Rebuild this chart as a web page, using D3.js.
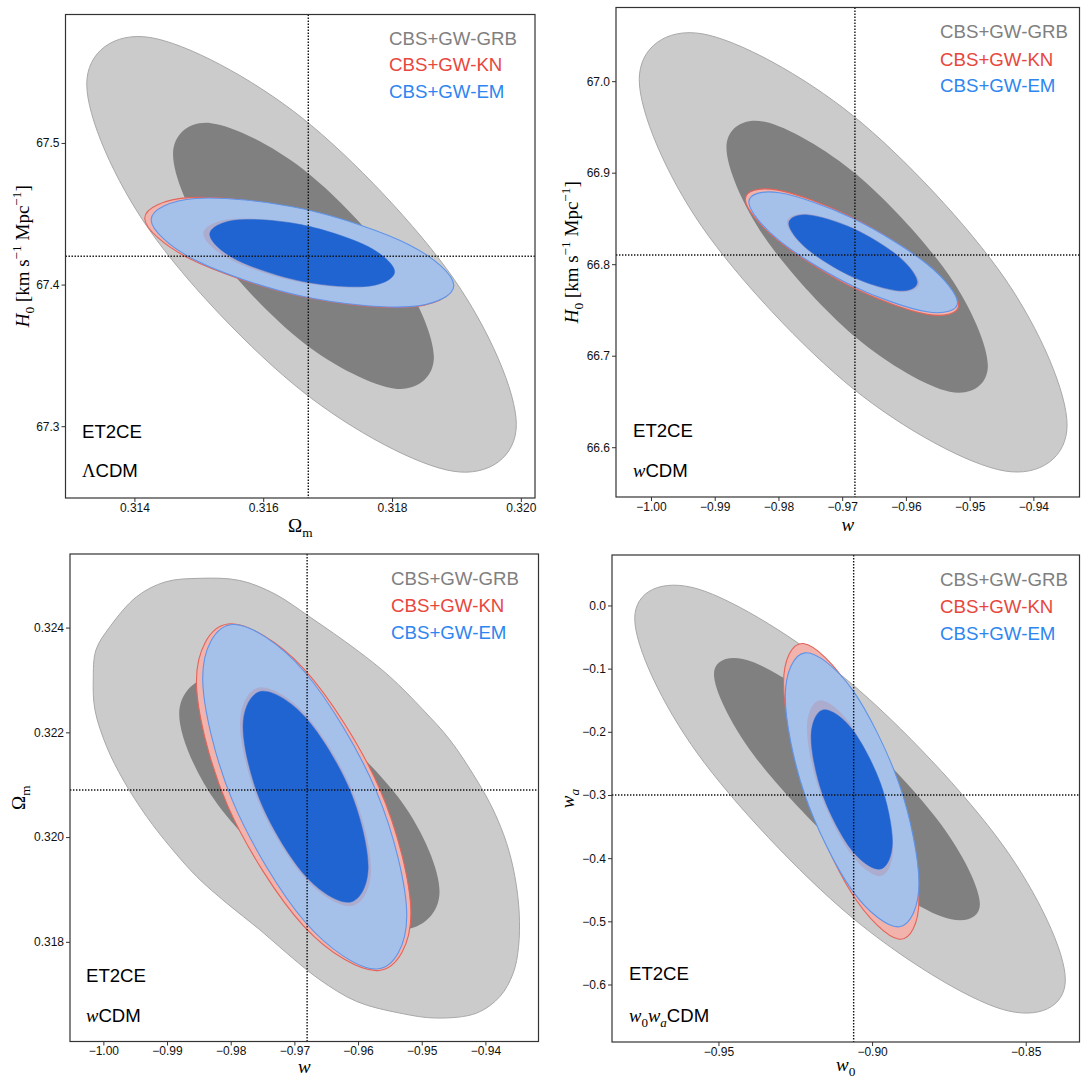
<!DOCTYPE html>
<html><head><meta charset="utf-8">
<script src="https://cdn.jsdelivr.net/npm/d3@7/dist/d3.min.js"></script>
<style>
html,body{margin:0;padding:0;background:#fff;}
svg{display:block;}
</style></head><body>
<svg id="chart" width="1081" height="1080"></svg>
<script>
// ================= DATA =================
const seriesNames = ["CBS+GW-GRB", "CBS+GW-KN", "CBS+GW-EM"];
const experiment = "ET2CE";

// ---- Panel 1: LambdaCDM, Omega_m vs H0 ----
const p1_xTicks = [0.314, 0.316, 0.318, 0.320];
const p1_yTicks = [67.3, 67.4, 67.5];
const p1_fiducial = [0.3167, 67.42];
const p1_grb95 = [[0.31993,67.3012],[0.31895,67.2682],[0.31660,67.3249],[0.31424,67.4381],[0.31326,67.5415],[0.31424,67.5745],[0.31660,67.5178],[0.31895,67.4046]];
const p1_grb68 = [[0.31865,67.3488],[0.31805,67.3265],[0.31662,67.3591],[0.31519,67.4276],[0.31460,67.4918],[0.31519,67.5140],[0.31662,67.4814],[0.31805,67.4130]];
const p1_kn95  = [[0.31894,67.3986],[0.31824,67.3840],[0.31655,67.3921],[0.31486,67.4182],[0.31416,67.4469],[0.31486,67.4614],[0.31655,67.4533],[0.31824,67.4273]];
const p1_em95  = [[0.31896,67.3994],[0.31827,67.3844],[0.31661,67.3917],[0.31495,67.4171],[0.31426,67.4457],[0.31495,67.4608],[0.31661,67.4535],[0.31827,67.4280]];
const p1_kn68  = [[0.31802,67.4089],[0.31759,67.3983],[0.31655,67.4019],[0.31550,67.4174],[0.31507,67.4358],[0.31550,67.4463],[0.31655,67.4428],[0.31759,67.4273]];
const p1_em68  = [[0.31804,67.4091],[0.31762,67.3988],[0.31660,67.4023],[0.31559,67.4174],[0.31517,67.4354],[0.31559,67.4456],[0.31660,67.4422],[0.31762,67.4270]];

// ---- Panel 2: wCDM, w vs H0 ----
const p2_xTicks = [-1.00, -0.99, -0.98, -0.97, -0.96, -0.95, -0.94];
const p2_yTicks = [66.6, 66.7, 66.8, 66.9, 67.0];
const p2_fiducial = [-0.968, 66.81];
const p2_grb95 = [[-0.93471,66.6242],[-0.94454,66.5741],[-0.96827,66.6639],[-0.99200,66.8410],[-1.00184,67.0017],[-0.99200,67.0518],[-0.96827,66.9621],[-0.94454,66.7849]];
const p2_grb68 = [[-0.94714,66.6889],[-0.95315,66.6606],[-0.96765,66.7187],[-0.98215,66.8292],[-0.98816,66.9273],[-0.98215,66.9556],[-0.96765,66.8975],[-0.95315,66.7870]];
const p2_kn95  = [[-0.95173,66.7552],[-0.95664,66.7452],[-0.96846,66.7750],[-0.98029,66.8272],[-0.98519,66.8711],[-0.98029,66.8812],[-0.96846,66.8514],[-0.95664,66.7992]];
const p2_em95  = [[-0.95190,66.7580],[-0.95669,66.7480],[-0.96827,66.7760],[-0.97985,66.8257],[-0.98465,66.8680],[-0.97985,66.8780],[-0.96827,66.8499],[-0.95669,66.8002]];
const p2_kn68  = [[-0.95792,66.7794],[-0.96096,66.7697],[-0.96830,66.7851],[-0.97564,66.8164],[-0.97868,66.8455],[-0.97564,66.8551],[-0.96830,66.8398],[-0.96096,66.8084]];
const p2_em68  = [[-0.95822,66.7804],[-0.96117,66.7710],[-0.96830,66.7859],[-0.97543,66.8163],[-0.97838,66.8444],[-0.97543,66.8538],[-0.96830,66.8390],[-0.96117,66.8085]];

// ---- Panel 3: wCDM, w vs Omega_m ----
const p3_xTicks = [-1.00, -0.99, -0.98, -0.97, -0.96, -0.95, -0.94];
const p3_yTicks = [0.318, 0.320, 0.322, 0.324];
const p3_fiducial = [-0.968, 0.3209];
const p3_grb95 = [[-0.98483,0.324941],[-0.97855,0.324899],[-0.97305,0.324641],[-0.96756,0.324202],[-0.96022,0.323573],[-0.95500,0.323063],[-0.94977,0.322427],[-0.94557,0.321855],[-0.94138,0.321092],[-0.93877,0.320519],[-0.93667,0.319884],[-0.93537,0.319246],[-0.93469,0.318548],[-0.93479,0.317910],[-0.93563,0.317403],[-0.93772,0.316956],[-0.94138,0.316639],[-0.94766,0.316544],[-0.95342,0.316639],[-0.96022,0.316861],[-0.96599,0.317275],[-0.97070,0.317733],[-0.97541,0.318229],[-0.98064,0.318739],[-0.98535,0.319246],[-0.98954,0.319819],[-0.99320,0.320391],[-0.99688,0.321092],[-0.99948,0.321727],[-1.00132,0.322427],[-1.00159,0.323000],[-1.00116,0.323573],[-0.99896,0.324017],[-0.99477,0.324590],[-0.99033,0.324870]];
const p3_grb68 = [[-0.94720,0.318963],[-0.95319,0.318238],[-0.96765,0.318929],[-0.98210,0.320631],[-0.98809,0.322347],[-0.98210,0.323072],[-0.96765,0.322381],[-0.95319,0.320679]];
const p3_kn95  = [[-0.95170,0.318541],[-0.95663,0.317453],[-0.96854,0.318302],[-0.98045,0.320591],[-0.98538,0.322979],[-0.98045,0.324067],[-0.96854,0.323218],[-0.95663,0.320929]];
const p3_em95  = [[-0.95235,0.318500],[-0.95704,0.317482],[-0.96838,0.318388],[-0.97971,0.320691],[-0.98440,0.323040],[-0.97971,0.324059],[-0.96838,0.323152],[-0.95704,0.320849]];
const p3_kn68  = [[-0.95795,0.319389],[-0.96097,0.318685],[-0.96824,0.319201],[-0.97552,0.320637],[-0.97853,0.322151],[-0.97552,0.322856],[-0.96824,0.322339],[-0.96097,0.320903]];
const p3_em68  = [[-0.95841,0.319437],[-0.96129,0.318757],[-0.96824,0.319255],[-0.97519,0.320642],[-0.97807,0.322103],[-0.97519,0.322783],[-0.96824,0.322285],[-0.96129,0.320899]];

// ---- Panel 4: w0waCDM, w0 vs wa ----
const p4_xTicks = [-0.95, -0.90, -0.85];
const p4_yTicks = [-0.6, -0.5, -0.4, -0.3, -0.2, -0.1, 0.0];
const p4_fiducial = [-0.906, -0.3];
const p4_grb95 = [[-0.83711,-0.59249],[-0.85764,-0.63929],[-0.90717,-0.49125],[-0.95671,-0.23497],[-0.97724,-0.02061],[-0.95671,0.02619],[-0.90717,-0.12185],[-0.85764,-0.37813]];
const p4_grb68 = [[-0.86491,-0.47241],[-0.87759,-0.49195],[-0.90818,-0.39366],[-0.93878,-0.23504],[-0.95146,-0.10903],[-0.93878,-0.08949],[-0.90818,-0.18778],[-0.87759,-0.34640]];
const p4_kn95  = [[-0.88475,-0.46526],[-0.89121,-0.52825],[-0.90678,-0.45423],[-0.92236,-0.28647],[-0.92881,-0.12328],[-0.92236,-0.06029],[-0.90678,-0.13431],[-0.89121,-0.30207]];
const p4_em95  = [[-0.88475,-0.43938],[-0.89112,-0.50862],[-0.90650,-0.45090],[-0.92188,-0.29995],[-0.92825,-0.14424],[-0.92188,-0.07500],[-0.90650,-0.13272],[-0.89112,-0.28367]];
const p4_kn68  = [[-0.89316,-0.38402],[-0.89727,-0.42842],[-0.90717,-0.39139],[-0.91708,-0.29456],[-0.92119,-0.19468],[-0.91708,-0.15028],[-0.90717,-0.18731],[-0.89727,-0.28414]];
const p4_em68  = [[-0.89338,-0.37343],[-0.89726,-0.41725],[-0.90661,-0.38729],[-0.91597,-0.30106],[-0.91984,-0.20909],[-0.91597,-0.16527],[-0.90661,-0.19523],[-0.89726,-0.28146]];

// ================= STYLE / LAYOUT =================
const SANS = "'Liberation Sans', Arial, Helvetica, sans-serif";
const SERIF = "'Liberation Serif', 'DejaVu Serif', 'Times New Roman', serif";
const layerOrder = ["grb95","grb68","kn95","em95","kn68","em68"];
const layerStyle = {
  grb95:{fill:"#cbcbcb", stroke:"#a8a8a8", sw:1, op:1},
  grb68:{fill:"#808080", stroke:"none", sw:0, op:1},
  kn95:{fill:"#f1b3ac", stroke:"#e2645a", sw:1.1, op:1},
  em95:{fill:"#a5c1ea", stroke:"#5f94e8", sw:1.1, op:1},
  kn68:{fill:"#cf4a48", stroke:"none", sw:0, op:0.17},
  em68:{fill:"#1f64d0", stroke:"#2a6bd4", sw:0.5, op:1}
};
const legendColors = ["#808080", "#e8473e", "#2e86f0"];

const panels = [
  {left:65.5, right:535, top:14.5, bottom:498, xDom:[0.31293,0.32022], yDom:[67.2493,67.5907],
   xTicks:p1_xTicks, yTicks:p1_yTicks, xFmt:".3f", yFmt:".1f", fid:p1_fiducial,
   c:{grb95:p1_grb95,grb68:p1_grb68,kn95:p1_kn95,em95:p1_em95,kn68:p1_kn68,em68:p1_em68}, free:[],
   legX:389, legY:[45,71,98], noteX:82, noteY:[438,477],
   model:[["Λ","serif"],["CDM","sans"]],
   xlab:[["Ω",""],["m","sub"]], xlabY:532,
   ylab:[["H","it"],["0","sub"],[" [km s",""],["−1","sup"],[" Mpc",""],["−1","sup"],["]",""]], ylabX:29},
  {left:616, right:1079.5, top:7.5, bottom:497, xDom:[-1.00549,-0.93276], yDom:[66.5456,67.0805],
   xTicks:p2_xTicks, yTicks:p2_yTicks, xFmt:".2f", yFmt:".1f", fid:p2_fiducial,
   c:{grb95:p2_grb95,grb68:p2_grb68,kn95:p2_kn95,em95:p2_em95,kn68:p2_kn68,em68:p2_em68}, free:[],
   legX:940, legY:[38,65.5,92], noteX:633, noteY:[437,477],
   model:[["w","serif it"],["CDM","sans"]],
   xlab:[["w","it"]], xlabY:531,
   ylab:[["H","it"],["0","sub"],[" [km s",""],["−1","sup"],[" Mpc",""],["−1","sup"],["]",""]], ylabX:578},
  {left:70, right:538.5, top:554, bottom:1041.5, xDom:[-1.00524,-0.93166], yDom:[0.316097,0.325405],
   xTicks:p3_xTicks, yTicks:p3_yTicks, xFmt:".2f", yFmt:".3f", fid:p3_fiducial,
   c:{grb95:p3_grb95,grb68:p3_grb68,kn95:p3_kn95,em95:p3_em95,kn68:p3_kn68,em68:p3_em68}, free:["grb95"],
   legX:391, legY:[585,612,639], noteX:86, noteY:[982,1021.5],
   model:[["w","serif it"],["CDM","sans"]],
   xlab:[["w","it"]], xlabY:1073,
   ylab:[["Ω",""],["m","sub"]], ylabX:25},
  {left:612, right:1079.5, top:555, bottom:1042, xDom:[-0.98464,-0.8325], yDom:[-0.691,0.0799],
   xTicks:p4_xTicks, yTicks:p4_yTicks, xFmt:".2f", yFmt:".1f", fid:p4_fiducial,
   c:{grb95:p4_grb95,grb68:p4_grb68,kn95:p4_kn95,em95:p4_em95,kn68:p4_kn68,em68:p4_em68}, free:[],
   legX:940, legY:[586,613,640], noteX:629, noteY:[980,1021.5],
   model:[["w","serif it"],["0","serif sub"],["w","serif it"],["a","serif sub it"],["CDM","sans"]],
   xlab:[["w","it"],["0","sub"]], xlabY:1071,
   ylab:[["w","it"],["a","sub it"]], ylabX:574}
];

const svg = d3.select("#chart");
svg.append("rect").attr("width",1081).attr("height",1080).attr("fill","#fff");

function richText(textSel, segs, fs, defaultFamily){
  let off = 0;
  segs.forEach(([txt, style])=>{
    const tok = style.split(" ");
    let target = 0, size = fs;
    if (tok.includes("sub")) { target = fs*0.28; size = fs*0.7; }
    if (tok.includes("sup")) { target = -fs*0.42; size = fs*0.7; }
    const ts = textSel.append("tspan").text(txt)
      .attr("font-size", size)
      .attr("font-family", tok.includes("sans") ? SANS : (tok.includes("serif") ? SERIF : defaultFamily));
    if (target - off !== 0) ts.attr("dy", target - off);
    off = target;
    if (tok.includes("it")) ts.attr("font-style","italic");
  });
}

panels.forEach((p, idx)=>{
  const x = d3.scaleLinear().domain(p.xDom).range([p.left, p.right]);
  const y = d3.scaleLinear().domain(p.yDom).range([p.bottom, p.top]);
  const clipId = "clip"+idx;
  svg.append("clipPath").attr("id", clipId).append("rect")
    .attr("x", p.left).attr("y", p.top).attr("width", p.right-p.left).attr("height", p.bottom-p.top);
  const g = svg.append("g").attr("clip-path", `url(#${clipId})`);

  const ellLine = d3.line().x(d=>x(d[0])).y(d=>y(d[1])).curve(d3.curveCardinalClosed.tension(0));
  const freeLine = d3.line().x(d=>x(d[0])).y(d=>y(d[1])).curve(d3.curveCatmullRomClosed.alpha(0.5));

  layerOrder.forEach(k=>{
    const st = layerStyle[k];
    const gen = p.free.includes(k) ? freeLine : ellLine;
    g.append("path").attr("d", gen(p.c[k]))
      .attr("fill", st.fill).attr("fill-opacity", st.op)
      .attr("stroke", st.stroke).attr("stroke-width", st.sw)
      .attr("stroke-linejoin","round");
  });

  // fiducial lines
  g.append("line").attr("x1", x(p.fid[0])).attr("x2", x(p.fid[0]))
    .attr("y1", p.top).attr("y2", p.bottom)
    .attr("stroke","#111").attr("stroke-width",1.4).attr("stroke-dasharray","1.4,1.6");
  g.append("line").attr("x1", p.left).attr("x2", p.right)
    .attr("y1", y(p.fid[1])).attr("y2", y(p.fid[1]))
    .attr("stroke","#111").attr("stroke-width",1.4).attr("stroke-dasharray","1.4,1.6");

  // axes
  const xa = svg.append("g").attr("transform", `translate(0,${p.bottom})`)
    .call(d3.axisBottom(x).tickValues(p.xTicks).tickFormat(d3.format(p.xFmt)).tickSize(4).tickPadding(1));
  const ya = svg.append("g").attr("transform", `translate(${p.left},0)`)
    .call(d3.axisLeft(y).tickValues(p.yTicks).tickFormat(d3.format(p.yFmt)).tickSize(4).tickPadding(2));
  [xa, ya].forEach(a=>{
    a.select(".domain").remove();
    a.selectAll(".tick line").attr("stroke","#333").attr("stroke-width",1);
    a.selectAll(".tick text").attr("font-family", SANS).attr("font-size", 12).attr("fill","#111");
  });

  // frame
  svg.append("rect").attr("x", p.left).attr("y", p.top)
    .attr("width", p.right-p.left).attr("height", p.bottom-p.top)
    .attr("fill","none").attr("stroke","#333").attr("stroke-width",1.2);

  // legend
  seriesNames.forEach((name, i)=>{
    svg.append("text").attr("x", p.legX).attr("y", p.legY[i])
      .attr("font-family", SANS).attr("font-size", 18.7)
      .attr("fill", legendColors[i]).text(name);
  });

  // notes
  svg.append("text").attr("x", p.noteX).attr("y", p.noteY[0])
    .attr("font-family", SANS).attr("font-size", 18.6).attr("fill","#000").text(experiment);
  const mt = svg.append("text").attr("x", p.noteX).attr("y", p.noteY[1])
    .attr("font-size", 18.6).attr("fill","#000");
  richText(mt, p.model, 18.6, SANS);

  // axis labels
  const xl = svg.append("text").attr("x", (p.left+p.right)/2).attr("y", p.xlabY)
    .attr("text-anchor","middle").attr("fill","#000").attr("font-family", SERIF).attr("font-size", 19);
  richText(xl, p.xlab, 19, SERIF);
  const cy = (p.top+p.bottom)/2;
  const yl = svg.append("text").attr("transform", `translate(${p.ylabX},${cy}) rotate(-90)`)
    .attr("text-anchor","middle").attr("fill","#000").attr("font-family", SERIF).attr("font-size", 19);
  richText(yl, p.ylab, 19, SERIF);
});
</script>
</body></html>
